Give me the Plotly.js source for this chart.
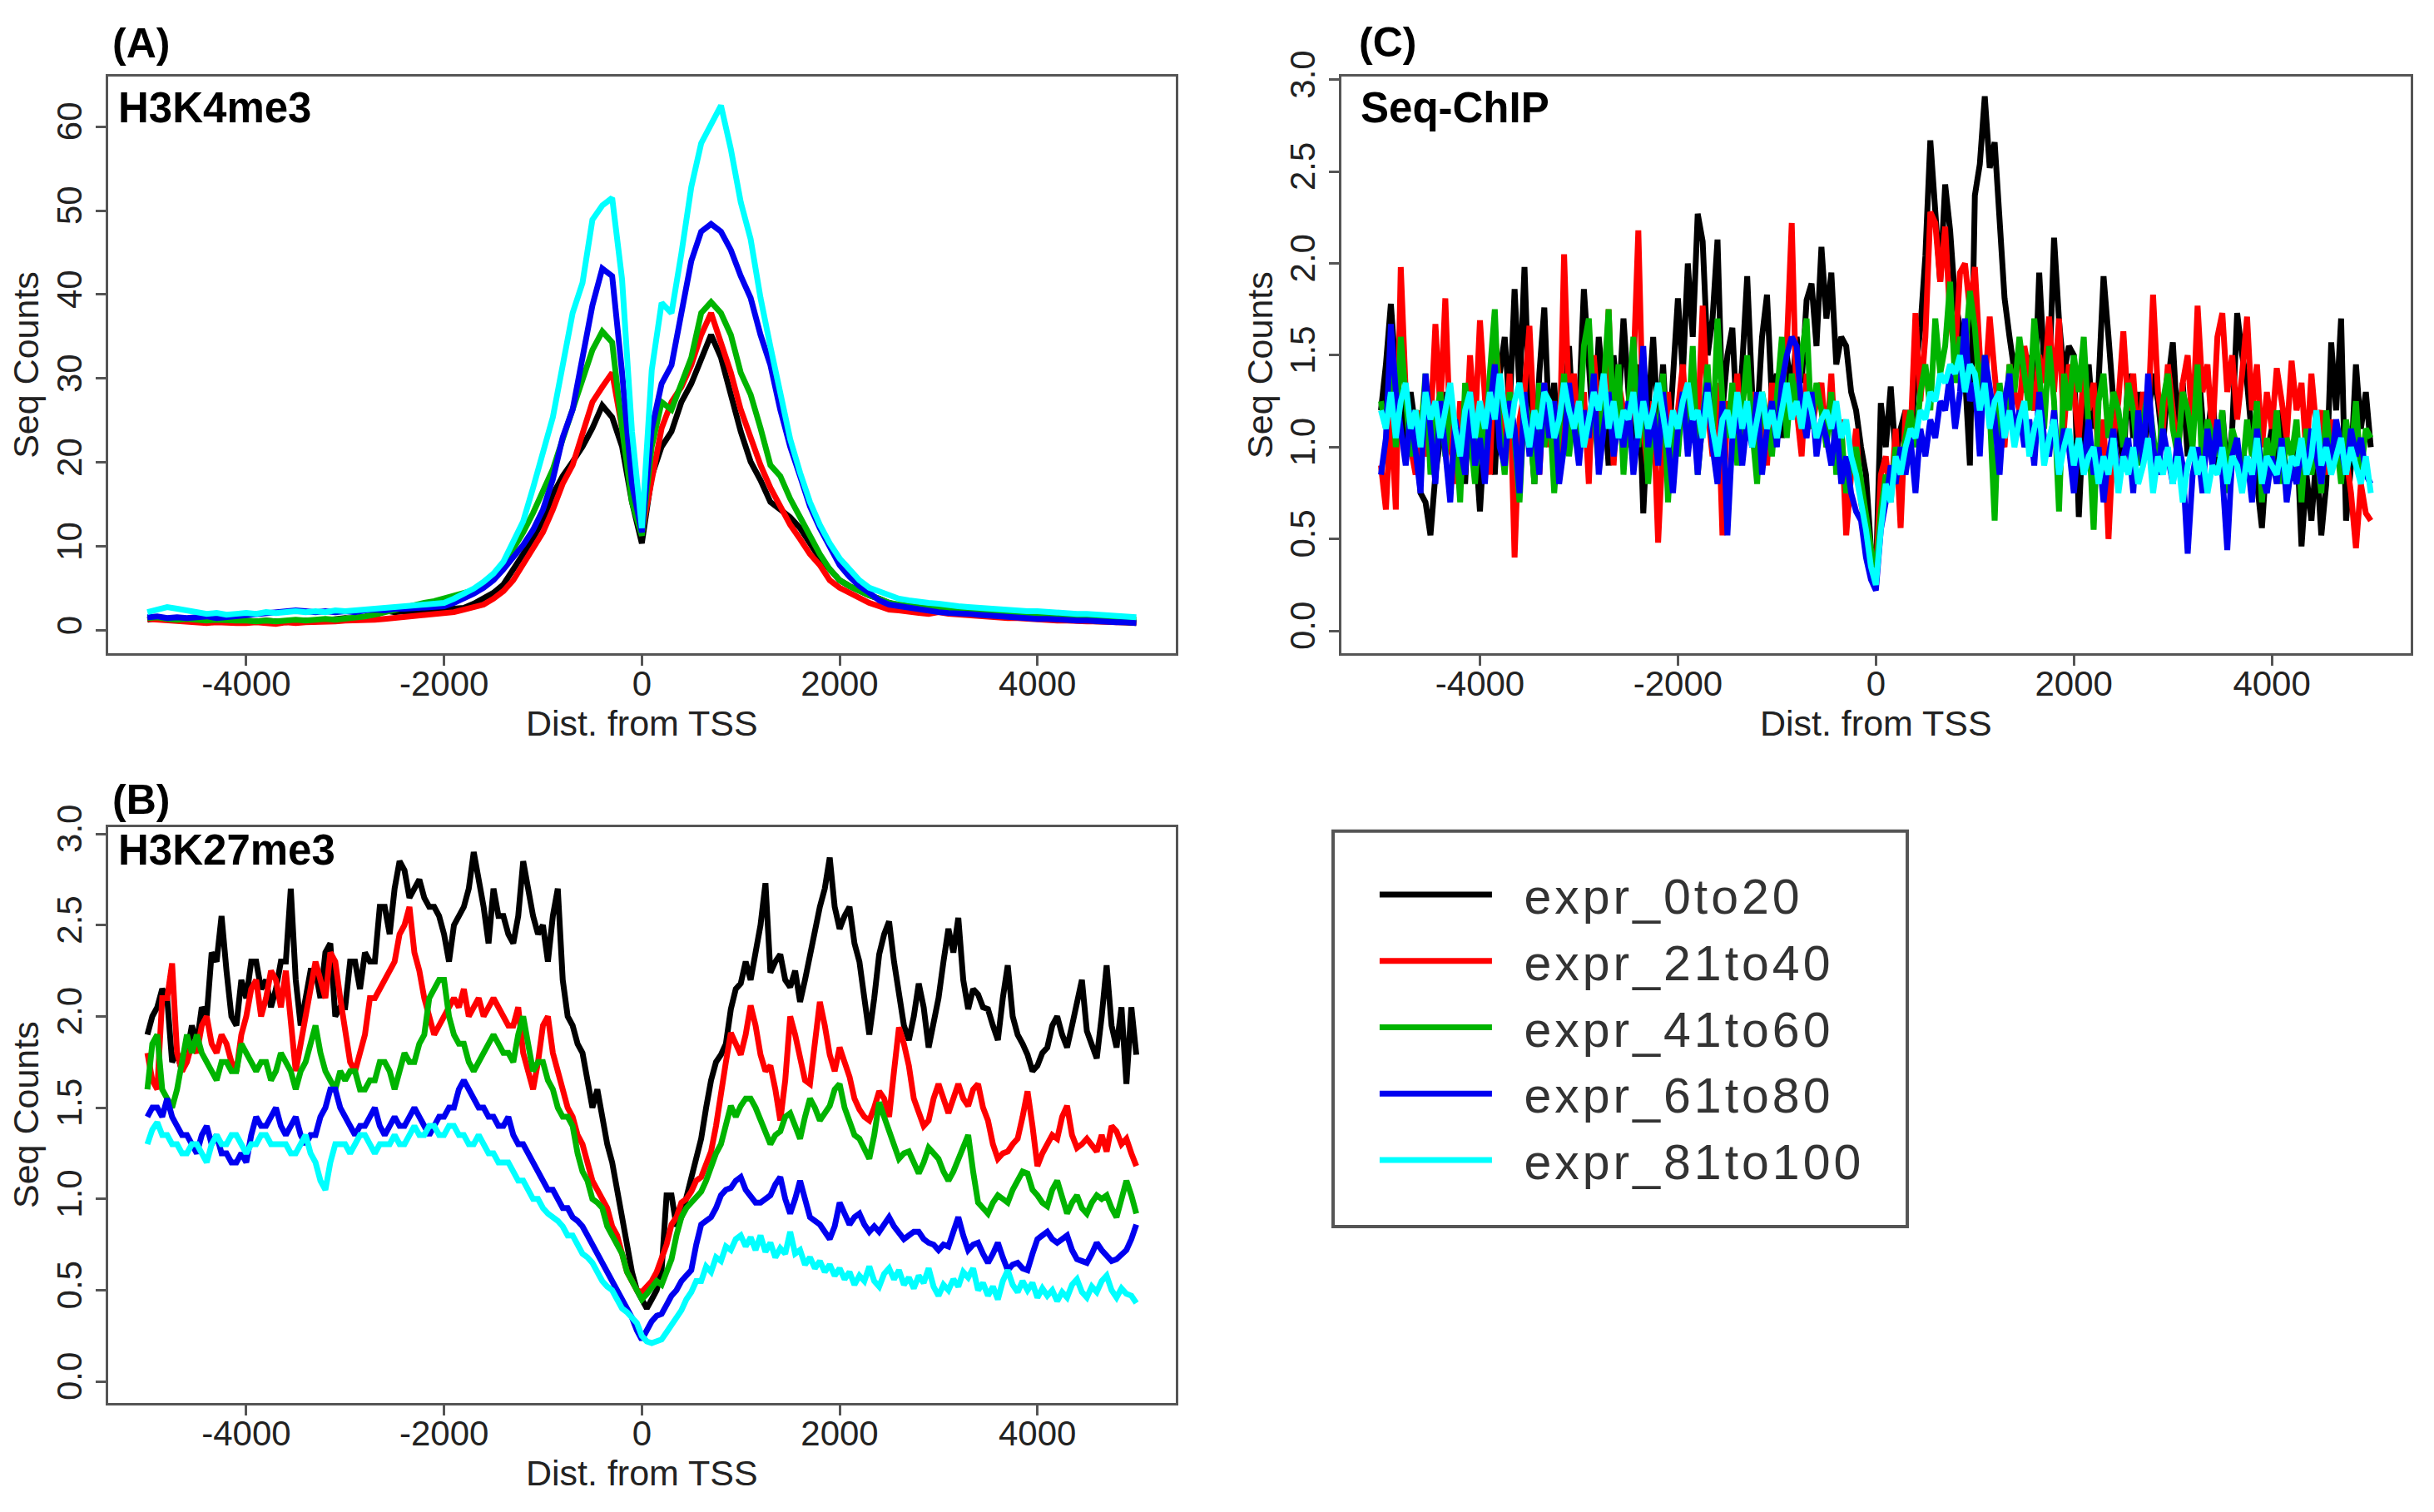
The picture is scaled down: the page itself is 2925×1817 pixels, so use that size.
<!DOCTYPE html>
<html>
<head>
<meta charset="utf-8">
<script src="https://cdn.plot.ly/plotly-3.0.1.min.js"></script>
<style>
  body { margin: 0; background: #fff; }
  #myDiv { width: 2925px; height: 1817px; }
  #myDiv .legendtext { letter-spacing: 4px; }
  #myDiv g.legend g.scrollbox { clip-path: none !important; }
</style>
</head>
<body>
<div id="myDiv"></div>
<script>
// series names and colours (R default palette look)
var seriesNames = ['expr_0to20', 'expr_21to40', 'expr_41to60', 'expr_61to80', 'expr_81to100'];
var seriesColors = ['#000000', '#ff0000', '#00b400', '#0000f0', '#00ffff'];

var distTicks = [-4000, -2000, 0, 2000, 4000];
var distLabels = ['-4000', '-2000', '0', '2000', '4000'];
var countTicks = [0, 10, 20, 30, 40, 50, 60];
var countLabels = ['0', '10', '20', '30', '40', '50', '60'];
var ratioTicks = [0, 0.5, 1, 1.5, 2, 2.5, 3];
var ratioLabels = ['0.0', '0.5', '1.0', '1.5', '2.0', '2.5', '3.0'];

// (A) H3K4me3, bins of 100 bp from -5000 to 5000
var h3k4_0to20 = [1.3,1.5,1.4,1.3,1.4,1.2,1.3,1.2,1.3,1.2,
  1.2,1.1,1.2,1.1,1.0,1.1,1.2,1.1,1.2,1.3,
  1.5,1.4,1.6,1.8,2.4,2.2,2.3,2.0,2.2,2.4,
  2.5,2.6,2.7,3.2,3.8,4.5,5.5,7.2,9.1,11.0,
  13.1,16.2,18.4,20.1,21.9,24.1,26.8,25.4,21.9,15.3,
  10.4,18.4,21.9,23.7,27.2,29.4,32.5,35.2,32.5,28.1,
  23.7,20.1,17.9,15.3,14.4,13.5,12.2,10.4,8.6,7.3,
  6.0,5.3,4.7,4.2,3.8,3.3,3.0,2.8,2.6,2.5,
  2.4,2.3,2.2,2.1,2.0,1.9,1.8,1.7,1.6,1.5,
  1.5,1.4,1.3,1.3,1.2,1.2,1.1,1.1,1.0,1.0,0.9];
var h3k4_21to40 = [1.4,1.3,1.2,1.1,1.0,1.0,0.9,1.0,0.9,0.9,
  0.9,1.0,0.9,0.8,1.0,0.9,1.0,1.0,1.1,1.1,
  1.2,1.2,1.3,1.3,1.4,1.5,1.6,1.7,1.8,1.9,
  2.0,2.2,2.5,2.8,3.1,3.8,4.7,6.0,7.8,9.6,
  11.7,14.4,17.5,19.7,23.2,27.2,29.0,30.7,24.1,16.6,
  11.7,18.4,24.1,27.2,29.0,31.6,35.2,37.8,34.3,30.7,
  26.3,22.8,19.7,17.0,14.8,12.6,10.9,9.1,7.8,6.0,
  5.1,4.5,3.8,3.3,2.9,2.5,2.4,2.2,2.1,2.0,
  2.2,2.0,1.9,1.8,1.7,1.6,1.6,1.5,1.5,1.4,
  1.3,1.3,1.2,1.2,1.1,1.1,1.1,1.0,1.0,1.0,1.0];
var h3k4_41to60 = [1.5,1.6,1.4,1.3,1.4,1.3,1.2,1.3,1.2,1.2,
  1.2,1.1,1.2,1.1,1.2,1.3,1.2,1.3,1.4,1.3,
  1.4,1.5,1.7,1.9,2.2,2.5,2.8,3.1,3.3,3.5,
  3.8,4.2,4.5,4.8,5.2,6.2,7.8,9.6,11.7,14.0,
  16.6,19.2,22.8,26.3,29.9,33.4,35.6,34.3,24.1,15.3,
  11.3,21.9,27.2,26.3,29.4,32.5,37.8,39.1,37.8,35.2,
  30.7,28.1,24.1,19.7,18.4,15.7,13.5,11.3,9.1,7.3,
  6.0,5.3,4.7,4.2,3.8,3.3,3.1,2.9,2.8,2.7,
  2.6,2.5,2.4,2.3,2.2,2.1,2.0,2.0,1.9,1.8,
  1.8,1.7,1.7,1.6,1.6,1.5,1.5,1.4,1.4,1.3,1.3];
var h3k4_61to80 = [1.6,1.7,1.5,1.6,1.5,1.6,1.7,1.5,1.6,1.7,
  1.8,1.9,2.0,2.2,2.3,2.4,2.3,2.2,2.3,2.2,
  2.3,2.2,2.4,2.5,2.4,2.6,2.6,2.7,2.8,2.8,
  2.9,3.3,3.8,4.4,5.1,6.0,7.3,8.8,10.2,12.0,
  14.4,18.0,23.0,26.3,32.5,38.7,43.1,42.2,30.7,17.5,
  11.7,24.0,29.4,31.6,37.8,44.0,47.5,48.4,47.5,45.3,
  42.2,39.6,35.2,31.6,26.3,21.9,18.4,14.8,12.2,10.0,
  7.8,6.4,5.3,4.5,3.6,3.1,2.9,2.7,2.5,2.4,
  2.2,2.1,2.1,2.0,1.9,1.8,1.7,1.6,1.5,1.5,
  1.4,1.4,1.3,1.3,1.2,1.2,1.1,1.1,1.0,1.0,0.9];
var h3k4_81to100 = [2.2,2.5,2.8,2.6,2.4,2.2,2.0,2.1,1.9,2.0,
  2.1,2.0,2.2,2.1,2.2,2.3,2.2,2.3,2.2,2.4,
  2.3,2.4,2.5,2.6,2.6,2.8,2.9,3.0,3.1,3.2,
  3.3,3.8,4.4,5.0,5.8,6.8,8.2,10.5,13.0,17.0,
  21.0,25.4,31.6,37.8,41.4,48.9,50.6,51.5,41.8,23.7,
  12.2,31.0,39.0,37.8,44.9,52.8,58.0,60.3,62.5,57.3,
  51.0,46.6,39.6,33.8,28.5,22.8,18.8,15.3,12.6,10.4,
  8.6,7.3,6.0,5.1,4.7,4.2,3.8,3.6,3.4,3.3,
  3.2,3.0,2.9,2.8,2.7,2.6,2.5,2.5,2.4,2.3,
  2.3,2.2,2.1,2.1,2.0,2.0,1.9,1.8,1.8,1.7,1.6];

// (B) H3K27me3, bins of 50 bp from -5000 to 5000
var h3k27_0to20 = [1.90,2.00,2.05,2.15,2.10,1.75,1.80,1.70,1.80,1.95,
  1.85,2.05,2.00,2.35,2.30,2.55,2.25,2.00,1.95,2.20,
  2.10,2.30,2.30,2.15,2.20,2.05,2.15,2.30,2.30,2.70,
  2.20,1.95,2.10,2.25,2.25,2.10,2.35,2.40,2.00,2.05,
  2.05,2.30,2.30,2.15,2.35,2.30,2.30,2.60,2.60,2.45,
  2.70,2.85,2.80,2.65,2.70,2.75,2.65,2.60,2.60,2.55,
  2.45,2.30,2.50,2.55,2.60,2.70,2.90,2.75,2.60,2.40,
  2.70,2.55,2.55,2.45,2.40,2.55,2.85,2.70,2.55,2.45,
  2.50,2.30,2.55,2.70,2.20,2.00,1.95,1.85,1.80,1.65,
  1.50,1.60,1.45,1.30,1.20,1.05,0.90,0.75,0.60,0.50,
  0.45,0.40,0.45,0.50,0.61,1.02,1.02,0.85,0.90,1.00,
  1.10,1.20,1.33,1.50,1.65,1.75,1.79,1.85,2.04,2.15,
  2.18,2.30,2.20,2.35,2.50,2.73,2.24,2.30,2.34,2.20,
  2.16,2.25,2.08,2.20,2.34,2.45,2.60,2.70,2.87,2.60,
  2.48,2.55,2.60,2.40,2.30,2.10,1.90,2.10,2.34,2.45,
  2.52,2.30,2.14,1.95,1.87,2.00,2.18,2.05,1.83,1.95,
  2.10,2.30,2.48,2.35,2.54,2.20,2.04,2.15,2.12,2.05,
  2.04,1.95,1.87,2.10,2.28,2.00,1.90,1.85,1.79,1.70,
  1.73,1.80,1.83,1.95,2.00,1.90,1.83,1.95,2.08,2.20,
  1.92,1.85,1.77,2.00,2.28,1.95,1.83,2.05,1.63,2.05,
  1.79];
var h3k27_21to40 = [1.80,1.65,1.60,2.10,2.10,2.29,1.80,1.70,1.75,1.85,
  1.80,1.95,2.00,1.85,1.80,1.90,1.85,1.75,1.70,1.90,
  2.00,2.15,2.20,2.00,2.10,2.25,2.20,2.05,2.25,2.00,
  1.70,1.85,2.00,2.15,2.30,2.20,2.10,2.35,2.30,2.10,
  1.90,1.75,1.70,1.80,1.90,2.10,2.10,2.15,2.20,2.25,
  2.30,2.45,2.50,2.60,2.35,2.25,2.10,2.00,1.90,1.95,
  2.00,2.05,2.10,2.05,2.15,2.00,2.05,2.10,2.00,2.05,
  2.10,2.05,2.00,1.95,1.95,2.05,1.80,1.70,1.60,1.75,
  1.95,2.00,1.80,1.70,1.60,1.50,1.45,1.35,1.30,1.20,
  1.10,1.05,1.00,0.95,0.85,0.80,0.70,0.60,0.55,0.50,
  0.49,0.52,0.55,0.60,0.67,0.75,0.86,0.90,0.98,1.00,
  1.04,1.10,1.12,1.20,1.26,1.40,1.59,1.75,1.91,1.85,
  1.79,1.90,2.06,1.95,1.79,1.70,1.73,1.60,1.43,1.65,
  2.00,1.90,1.79,1.65,1.63,1.85,2.08,1.95,1.79,1.70,
  1.83,1.75,1.67,1.55,1.49,1.45,1.43,1.50,1.59,1.55,
  1.45,1.70,1.94,1.85,1.73,1.55,1.47,1.40,1.43,1.55,
  1.63,1.55,1.47,1.55,1.63,1.55,1.51,1.60,1.63,1.50,
  1.43,1.30,1.22,1.25,1.26,1.30,1.33,1.45,1.59,1.40,
  1.18,1.25,1.30,1.35,1.33,1.45,1.51,1.35,1.28,1.30,
  1.33,1.30,1.26,1.35,1.26,1.40,1.37,1.30,1.33,1.25,
  1.18];
var h3k27_41to60 = [1.60,1.85,1.90,1.60,1.55,1.50,1.60,1.75,1.90,1.80,
  1.90,1.80,1.75,1.70,1.65,1.75,1.75,1.70,1.70,1.85,
  1.80,1.75,1.70,1.75,1.75,1.65,1.70,1.80,1.75,1.70,
  1.60,1.70,1.75,1.85,1.95,1.80,1.70,1.65,1.60,1.70,
  1.65,1.70,1.70,1.60,1.60,1.65,1.65,1.75,1.75,1.70,
  1.60,1.70,1.80,1.75,1.75,1.85,1.90,2.10,2.15,2.20,
  2.20,2.00,1.90,1.85,1.85,1.75,1.70,1.75,1.80,1.85,
  1.90,1.85,1.80,1.80,1.75,1.90,2.00,1.85,1.70,1.75,
  1.75,1.65,1.60,1.50,1.45,1.45,1.40,1.25,1.15,1.10,
  1.00,0.98,0.95,0.85,0.80,0.75,0.70,0.60,0.55,0.50,
  0.45,0.48,0.51,0.55,0.53,0.60,0.67,0.80,0.90,0.95,
  0.98,1.00,1.04,1.10,1.18,1.25,1.30,1.40,1.51,1.45,
  1.51,1.55,1.55,1.50,1.43,1.35,1.30,1.35,1.37,1.45,
  1.47,1.40,1.33,1.45,1.55,1.50,1.43,1.47,1.51,1.60,
  1.63,1.50,1.43,1.35,1.33,1.28,1.22,1.35,1.53,1.45,
  1.37,1.30,1.22,1.25,1.26,1.20,1.14,1.20,1.28,1.25,
  1.22,1.15,1.10,1.15,1.22,1.30,1.35,1.15,0.98,0.95,
  0.92,0.98,1.02,1.00,0.98,1.05,1.10,1.15,1.14,1.05,
  1.02,0.98,0.96,1.05,1.10,1.00,0.92,0.98,1.02,0.95,
  0.92,0.98,1.02,1.00,1.02,0.95,0.90,1.00,1.10,1.02,
  0.92];
var h3k27_61to80 = [1.45,1.50,1.50,1.45,1.55,1.45,1.40,1.35,1.35,1.30,
  1.25,1.35,1.40,1.30,1.35,1.25,1.25,1.20,1.20,1.25,
  1.20,1.35,1.45,1.40,1.40,1.45,1.50,1.40,1.35,1.40,
  1.45,1.35,1.30,1.35,1.35,1.45,1.50,1.60,1.60,1.50,
  1.45,1.40,1.35,1.40,1.40,1.45,1.50,1.40,1.35,1.40,
  1.45,1.40,1.40,1.45,1.50,1.45,1.40,1.35,1.40,1.45,
  1.45,1.50,1.50,1.60,1.65,1.60,1.55,1.50,1.50,1.45,
  1.45,1.40,1.40,1.45,1.35,1.30,1.30,1.25,1.20,1.15,
  1.10,1.05,1.05,1.00,0.95,0.95,0.90,0.88,0.85,0.80,
  0.75,0.70,0.65,0.60,0.55,0.50,0.45,0.40,0.35,0.28,
  0.23,0.28,0.33,0.36,0.37,0.42,0.47,0.50,0.55,0.58,
  0.61,0.75,0.86,0.88,0.90,0.95,1.02,1.05,1.06,1.10,
  1.12,1.05,1.02,0.98,0.98,1.00,1.02,1.08,1.12,1.00,
  0.92,1.00,1.10,1.00,0.90,0.88,0.86,0.82,0.78,0.85,
  0.98,0.92,0.86,0.90,0.92,0.86,0.82,0.85,0.82,0.86,
  0.90,0.85,0.82,0.78,0.80,0.82,0.82,0.78,0.76,0.75,
  0.72,0.75,0.74,0.82,0.90,0.80,0.72,0.75,0.76,0.70,
  0.65,0.70,0.76,0.68,0.61,0.64,0.65,0.62,0.61,0.70,
  0.78,0.80,0.82,0.78,0.76,0.78,0.80,0.72,0.67,0.66,
  0.65,0.70,0.76,0.72,0.69,0.66,0.67,0.70,0.72,0.78,
  0.86];
var h3k27_81to100 = [1.30,1.38,1.42,1.35,1.35,1.30,1.30,1.25,1.25,1.30,
  1.30,1.25,1.20,1.30,1.35,1.30,1.30,1.35,1.35,1.30,
  1.25,1.30,1.30,1.35,1.35,1.30,1.30,1.30,1.30,1.25,
  1.25,1.30,1.35,1.25,1.20,1.10,1.05,1.20,1.30,1.30,
  1.30,1.25,1.30,1.35,1.35,1.30,1.25,1.30,1.30,1.30,
  1.35,1.30,1.30,1.35,1.40,1.35,1.35,1.40,1.40,1.35,
  1.35,1.40,1.40,1.35,1.35,1.30,1.30,1.35,1.30,1.25,
  1.25,1.20,1.20,1.20,1.15,1.10,1.10,1.05,1.00,1.00,
  0.95,0.92,0.90,0.88,0.85,0.80,0.80,0.75,0.70,0.68,
  0.65,0.60,0.55,0.52,0.50,0.45,0.40,0.38,0.35,0.32,
  0.25,0.22,0.21,0.22,0.23,0.27,0.31,0.35,0.39,0.45,
  0.49,0.55,0.55,0.63,0.60,0.68,0.66,0.74,0.72,0.78,
  0.80,0.74,0.79,0.72,0.80,0.71,0.76,0.68,0.73,0.70,
  0.82,0.70,0.72,0.64,0.68,0.62,0.66,0.60,0.64,0.58,
  0.62,0.56,0.60,0.53,0.58,0.55,0.63,0.55,0.52,0.59,
  0.62,0.56,0.61,0.53,0.57,0.51,0.58,0.54,0.62,0.52,
  0.47,0.53,0.50,0.56,0.52,0.60,0.57,0.62,0.50,0.54,
  0.47,0.52,0.45,0.55,0.61,0.53,0.49,0.55,0.50,0.54,
  0.46,0.51,0.47,0.50,0.44,0.49,0.46,0.53,0.56,0.49,
  0.46,0.52,0.49,0.55,0.58,0.50,0.46,0.51,0.48,0.47,
  0.43];

// (C) Seq-ChIP, bins of 50 bp from -5000 to 5000
var chip_0to20 = [1.20,1.45,1.78,1.40,1.25,0.95,1.30,1.10,0.75,0.70,
  0.52,0.85,1.05,1.30,1.00,0.90,1.15,0.80,1.35,1.05,
  0.65,1.10,1.25,0.85,1.40,1.60,1.20,1.86,1.30,1.98,
  1.20,0.80,1.40,1.76,1.10,1.35,0.90,1.25,1.55,1.05,
  1.20,1.86,1.45,1.05,1.60,1.30,0.90,1.50,1.20,1.70,
  1.30,1.00,1.45,0.64,1.20,1.60,1.10,1.45,0.95,1.35,
  1.81,1.40,2.00,1.60,2.27,2.12,1.50,1.70,2.13,1.20,
  1.50,1.65,1.10,1.45,1.93,1.30,1.15,1.60,1.83,1.25,
  1.40,1.05,1.50,1.30,1.60,1.35,1.80,1.89,1.55,2.09,
  1.70,1.95,1.45,1.60,1.55,1.30,1.20,1.00,0.85,0.45,
  0.29,1.24,1.00,1.33,0.95,1.10,1.20,1.00,1.40,1.65,
  2.04,2.67,2.30,1.90,2.43,2.18,1.80,1.65,1.40,0.90,
  2.37,2.54,2.91,2.52,2.66,2.18,1.81,1.60,1.41,1.55,
  1.30,1.50,1.20,1.95,1.45,1.35,2.14,1.69,1.40,1.55,
  1.50,0.62,1.20,1.45,1.10,1.35,1.93,1.60,1.25,1.10,
  0.90,1.40,1.05,1.30,0.95,1.15,1.40,1.25,1.00,1.35,
  1.57,1.10,1.35,0.95,1.20,1.50,1.15,1.05,1.30,0.90,
  1.20,0.85,1.10,1.73,1.50,1.35,1.05,0.80,0.56,0.95,
  1.10,0.90,1.20,0.75,0.95,1.10,0.46,0.85,0.60,0.95,
  0.52,0.80,1.57,1.20,1.70,0.60,0.90,1.45,1.10,1.30,
  1.00];
var chip_21to40 = [0.90,0.66,1.20,0.66,1.98,1.30,1.00,0.85,1.20,0.95,
  1.10,1.67,1.20,1.81,1.05,0.80,1.25,0.95,1.50,1.10,
  1.69,1.20,0.85,1.63,1.30,1.00,1.40,0.40,1.15,1.30,
  1.66,1.10,0.85,1.35,1.00,1.25,0.90,2.05,1.20,1.40,
  1.05,1.30,0.80,1.50,1.15,1.10,1.75,0.90,1.35,1.20,
  1.00,1.40,2.18,1.10,0.85,1.25,0.48,1.05,1.30,0.95,
  1.20,1.45,1.00,1.30,1.10,1.77,1.20,0.95,1.35,0.52,
  1.25,1.10,1.40,0.95,1.15,1.30,1.00,1.20,0.90,1.35,
  1.05,1.30,1.55,2.22,1.20,0.95,1.40,1.10,1.25,1.35,
  1.00,1.40,0.90,1.15,0.52,0.85,1.10,0.70,0.55,0.40,
  0.30,0.85,0.95,0.70,1.10,0.56,1.20,1.05,1.73,1.25,
  1.60,2.28,2.22,1.90,2.20,1.70,1.50,1.95,2.00,1.75,
  1.98,1.50,1.30,1.71,1.40,1.10,1.00,1.45,1.30,1.20,
  1.55,1.40,1.20,1.50,1.35,1.71,1.30,1.70,1.10,1.45,
  1.30,1.05,1.40,1.20,1.35,0.95,1.15,0.50,1.05,1.25,
  1.63,1.20,1.40,1.00,1.30,1.15,1.83,1.30,1.10,1.45,
  1.20,0.95,1.35,1.50,1.10,1.77,1.30,1.45,1.05,1.60,
  1.73,1.30,1.50,1.15,1.40,1.71,1.20,1.45,1.00,1.30,
  1.10,1.43,1.25,1.05,1.47,1.20,1.35,0.95,1.40,1.10,
  1.20,0.85,1.15,0.90,1.05,0.95,0.75,0.45,0.80,0.64,
  0.60];
var chip_41to60 = [1.25,1.10,1.45,1.00,1.60,1.30,0.95,1.20,1.05,1.40,
  0.85,1.15,1.30,0.95,1.25,1.10,0.70,1.35,1.05,0.80,
  1.20,0.95,1.40,1.75,1.10,0.85,1.30,1.05,0.70,1.25,
  1.15,0.80,1.35,1.00,1.25,0.75,1.10,1.40,0.95,1.20,
  1.05,1.55,1.70,1.20,0.90,1.30,1.75,1.10,1.45,0.85,
  1.25,1.60,1.00,1.35,0.80,1.20,1.05,1.40,0.70,1.15,
  0.95,1.30,1.10,1.55,0.85,1.20,1.45,1.00,1.70,1.25,
  1.05,1.35,0.90,1.20,1.50,1.10,0.80,1.30,1.15,0.95,
  1.25,1.60,1.05,1.40,1.20,1.50,1.70,1.10,1.35,1.20,
  1.00,1.30,0.85,1.10,0.75,0.90,1.00,0.80,0.60,0.45,
  0.30,0.65,0.85,0.75,1.00,0.90,1.05,1.20,1.00,1.30,
  1.45,1.20,1.70,1.40,1.55,1.90,1.35,1.60,1.50,1.85,
  1.65,1.30,1.50,1.20,0.60,1.35,1.10,1.45,1.30,1.60,
  1.40,1.20,1.70,1.35,1.10,1.55,1.25,0.65,1.40,1.20,
  1.50,1.30,1.60,1.10,0.55,1.25,1.40,1.05,1.30,1.20,
  1.00,1.35,1.20,0.90,1.15,1.30,1.05,0.85,1.25,1.40,
  1.10,0.95,1.30,1.20,1.00,1.45,0.85,1.15,1.05,0.95,
  1.20,0.75,1.10,1.00,0.85,1.15,0.95,1.25,0.70,1.05,
  0.90,1.20,0.80,1.05,0.95,1.15,0.70,1.10,0.85,1.00,
  0.75,1.20,0.90,1.05,0.80,1.15,0.95,1.25,0.85,1.10,
  1.05];
var chip_61to80 = [0.85,1.05,1.67,1.30,1.10,0.90,1.20,1.00,0.75,1.40,
  1.10,0.80,1.25,0.95,0.70,1.15,1.00,0.85,1.30,0.90,
  1.05,0.80,1.20,1.45,1.00,0.90,1.25,1.10,0.75,1.30,
  0.95,1.15,0.85,1.35,1.05,1.25,0.80,1.00,1.35,1.15,
  0.90,1.20,1.05,1.40,0.85,1.10,1.30,0.95,1.15,1.00,
  1.25,0.85,1.10,1.55,1.00,1.20,0.90,1.30,1.05,0.75,
  1.10,1.30,0.95,1.20,0.85,1.15,1.35,1.00,0.80,1.25,
  0.52,1.05,1.20,0.90,1.15,1.00,1.30,0.85,1.10,1.25,
  1.00,1.35,1.50,1.60,1.55,1.20,1.05,1.30,0.95,1.15,
  1.05,0.90,1.15,0.80,0.95,0.75,0.65,0.60,0.40,0.28,
  0.22,0.55,0.70,0.90,0.80,1.00,0.85,1.05,0.75,1.10,
  0.95,1.15,1.05,1.25,1.20,1.40,1.10,1.30,1.70,1.25,
  1.35,0.95,1.50,1.30,1.15,0.85,1.25,1.40,1.05,1.20,
  1.00,1.15,0.90,1.30,1.05,0.95,1.20,0.85,1.10,1.00,
  0.75,1.05,0.90,1.15,0.85,1.00,0.70,0.95,1.10,0.80,
  0.95,1.05,0.75,1.20,0.90,1.40,1.00,0.85,1.10,0.95,
  0.80,1.05,0.90,0.42,0.85,1.00,0.75,1.10,0.90,1.15,
  0.85,0.44,0.95,1.05,0.80,0.95,0.70,1.10,0.85,0.75,
  0.95,0.80,1.05,0.70,0.90,0.80,1.00,0.85,1.10,0.95,
  0.80,1.05,0.90,1.15,1.00,0.85,1.10,0.95,1.05,0.85,
  0.80];
var chip_81to100 = [1.20,1.10,1.30,1.05,1.25,1.35,1.10,1.20,1.00,1.30,
  1.15,1.25,1.05,1.20,1.35,1.10,0.95,1.20,1.30,1.05,
  1.25,1.10,1.30,1.15,1.40,1.20,1.05,1.25,1.35,1.15,
  1.00,1.20,1.10,1.30,1.25,1.05,1.15,1.35,1.20,1.10,
  1.25,1.00,1.15,1.30,1.20,1.40,1.10,1.25,1.05,1.20,
  1.15,1.30,1.05,1.25,1.10,1.20,1.35,1.15,1.00,1.20,
  1.10,1.25,1.35,1.15,1.20,1.05,1.30,1.10,0.95,1.15,
  1.20,1.05,1.30,1.10,1.25,1.00,1.15,1.30,1.10,1.20,
  1.05,1.20,1.35,1.15,1.25,1.10,1.30,1.20,1.05,1.15,
  1.20,1.10,1.25,1.05,1.15,0.95,0.85,0.70,0.55,0.35,
  0.25,0.55,0.80,0.70,0.95,0.85,1.00,1.10,1.05,1.20,
  1.15,1.30,1.25,1.40,1.35,1.45,1.40,1.50,1.30,1.45,
  1.40,1.20,1.35,1.10,1.25,1.30,1.05,1.20,1.00,1.15,
  1.25,0.95,1.10,1.20,0.90,1.05,1.15,0.85,1.00,1.10,
  0.90,1.05,0.85,0.95,1.00,0.80,0.95,0.85,1.05,0.75,
  0.95,0.85,1.00,0.80,0.90,1.05,0.75,0.95,0.85,1.00,
  0.80,0.95,0.70,0.90,1.00,0.85,0.95,0.75,0.90,0.85,
  1.00,0.80,0.95,0.90,0.75,0.95,0.85,1.05,0.80,0.95,
  0.90,0.85,1.00,0.80,0.95,0.90,1.05,0.85,0.95,1.20,
  0.90,1.00,0.85,0.95,1.05,0.85,1.00,0.90,0.80,0.95,
  0.75];

// bin centres (distance from TSS)
function bins(step){
    var out = [];
    for(let d = -5000; d <= 5000; d += step){
        out.push(d);
    }
    return out;
}
var binsA = bins(100);
var binsBC = bins(50);

var font = 'Liberation Sans, Arial, sans-serif';
var tickFont = {family: font, size: 42, color: '#222'};
var titleFont = {family: font, size: 43, color: '#222'};

function panel(xs, series, xa, ya, legend){
    var traces = [];
    for(let i = 0; i < series.length; i++){
        traces.push({
            x: xs,
            y: series[i],
            type: 'scatter',
            mode: 'lines',
            name: '\u2002' + seriesNames[i],
            legendgroup: seriesNames[i],
            showlegend: legend,
            xaxis: xa,
            yaxis: ya,
            line: {color: seriesColors[i], width: 7},
            hoverinfo: 'skip'
        });
    }
    return traces;
}

var data = []
    .concat(panel(binsA, [h3k4_0to20, h3k4_21to40, h3k4_41to60, h3k4_61to80, h3k4_81to100], 'x', 'y', true))
    .concat(panel(binsBC, [h3k27_0to20, h3k27_21to40, h3k27_41to60, h3k27_61to80, h3k27_81to100], 'x2', 'y2', false))
    .concat(panel(binsBC, [chip_0to20, chip_21to40, chip_41to60, chip_61to80, chip_81to100], 'x3', 'y3', false));

function xAxis(domain, anchor){
    return {
        domain: domain, anchor: anchor, range: [-5400, 5400],
        showgrid: false, zeroline: false,
        showline: true, mirror: true, linecolor: '#555', linewidth: 3,
        ticks: 'outside', ticklen: 12, tickwidth: 3, tickcolor: '#555',
        tickvals: distTicks, ticktext: distLabels, tickfont: tickFont,
        ticklabelstandoff: -14,
        title: {text: 'Dist. from TSS', font: titleFont, standoff: 10}
    };
}
function yAxis(domain, anchor, range, tv, tt){
    return {
        domain: domain, anchor: anchor, range: range,
        showgrid: false, zeroline: false,
        showline: true, mirror: true, linecolor: '#555', linewidth: 3,
        ticks: 'outside', ticklen: 12, tickwidth: 3, tickcolor: '#555',
        tickvals: tv, ticktext: tt, tickfont: tickFont, tickangle: -90,
        title: {text: 'Seq Counts', font: titleFont, standoff: 0}
    };
}

var topRow = [0.5682, 0.9491];
var bottomRow = [0.0723, 0.4531];
var leftCol = [0.0443, 0.4831];
var rightCol = [0.5511, 0.9903];

function label(text, x, y, size){
    return {
        xref: 'paper', yref: 'paper', x: x, y: y,
        xanchor: 'left', yanchor: 'middle', showarrow: false,
        text: '<b>' + text + '</b>',
        font: {family: font, size: size, color: '#000'}
    };
}

var layout = {
    width: 2925, height: 1817,
    margin: {l: 0, r: 0, t: 0, b: 0},
    paper_bgcolor: '#fff', plot_bgcolor: '#fff',
    font: {family: font, color: '#222'},
    xaxis: xAxis(leftCol, 'y'),
    yaxis: yAxis(topRow, 'x', [-2.65, 65.9], countTicks, countLabels),
    xaxis2: xAxis(leftCol, 'y2'),
    yaxis2: yAxis(bottomRow, 'x2', [-0.116, 3.038], ratioTicks, ratioLabels),
    xaxis3: xAxis(rightCol, 'y3'),
    yaxis3: yAxis(topRow, 'x3', [-0.12, 3.015], ratioTicks, ratioLabels),
    annotations: [
        label('(A)', 0.0455, 0.9715, 50),
        label('H3K4me3', 0.0480, 0.9290, 51),
        label('(B)', 0.0455, 0.4712, 50),
        label('H3K27me3', 0.0480, 0.4377, 51),
        label('(C)', 0.5575, 0.9720, 50),
        label('Seq-ChIP', 0.5582, 0.9290, 51)
    ],
    shapes: [{
        type: 'rect', xref: 'paper', yref: 'paper',
        x0: 0.5477, x1: 0.7836, y0: 0.1888, y1: 0.4503,
        line: {color: '#555', width: 4}
    }],
    showlegend: true,
    legend: {
        x: 0.5651, y: 0.4330, xanchor: 'left', yanchor: 'top',
        bgcolor: 'rgba(0,0,0,0)', borderwidth: 0,
        font: {family: font, size: 59, color: '#333'},
        itemwidth: 135, tracegroupgap: 0, traceorder: 'normal'
    }
};

Plotly.newPlot('myDiv', data, layout, {displayModeBar: false, staticPlot: true});
</script>
</body>
</html>
